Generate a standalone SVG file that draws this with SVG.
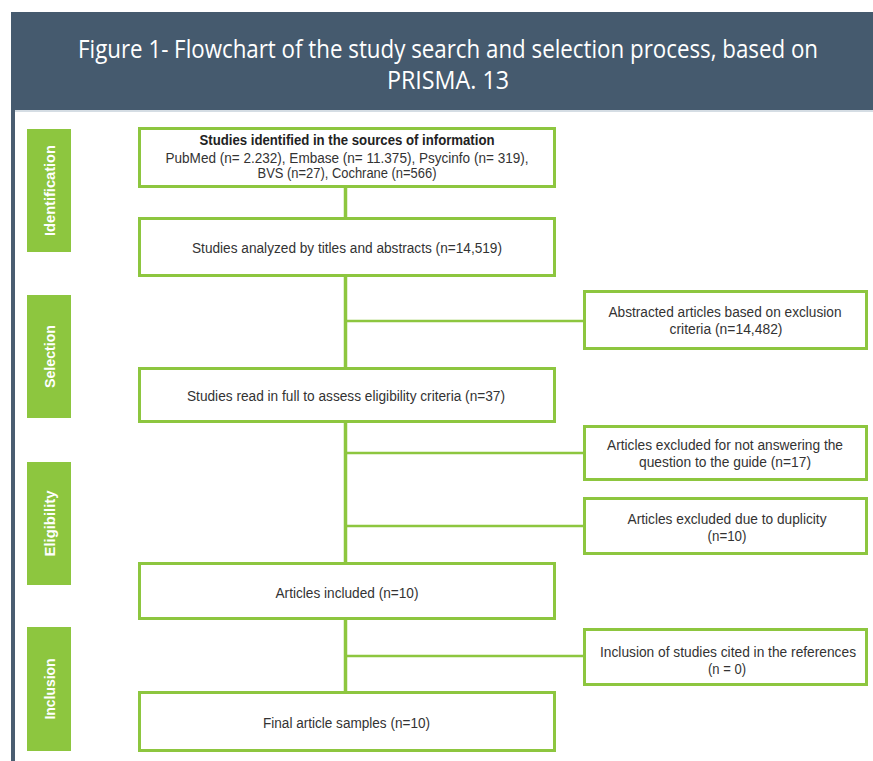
<svg xmlns="http://www.w3.org/2000/svg" width="873" height="761" viewBox="0 0 873 761">
  <style>
    .box { fill: #ffffff; stroke: #8dc63f; stroke-width: 3; }
    .side { fill: #8dc63f; }
    .conn { stroke: #8dc63f; fill: none; }
    .v { stroke-width: 3.5; }
    .h { stroke-width: 2.5; }
    .t { font-family: "Liberation Sans", Arial, sans-serif; font-size: 14px; fill: #333333; text-anchor: middle; }
    .b { font-weight: bold; fill: #222222; }
    .lbl { font-family: "Liberation Sans", Arial, sans-serif; font-size: 15px; font-weight: bold; fill: #ffffff; text-anchor: middle; }
    .title { font-family: "Open Sans", "Liberation Sans", sans-serif; font-size: 25px; fill: #ffffff; text-anchor: middle; }
  </style>
  <rect x="0" y="0" width="873" height="761" fill="#ffffff"/>
  <g id="header">
    <rect x="11" y="12" width="862" height="98" fill="#455a6e"/>
    <rect x="11" y="110" width="862" height="2" fill="#d5dde4"/>
    <text class="title" x="448" y="58" textLength="740" lengthAdjust="spacingAndGlyphs">Figure 1- Flowchart of the study search and selection process, based on</text>
    <text class="title" x="448" y="89" textLength="122" lengthAdjust="spacingAndGlyphs">PRISMA. 13</text>
  </g>
  <rect x="11" y="110" width="4" height="651" fill="#4a5d71"/>

  <g id="label-identification">
    <rect class="side" x="27" y="129" width="44" height="123"/>
    <text class="lbl" transform="translate(54.5,190.5) rotate(-90)" textLength="91" lengthAdjust="spacingAndGlyphs">Identification</text>
  </g>
  <g id="label-selection">
    <rect class="side" x="27" y="295" width="44" height="123"/>
    <text class="lbl" transform="translate(54.5,356.5) rotate(-90)" textLength="63" lengthAdjust="spacingAndGlyphs">Selection</text>
  </g>
  <g id="label-eligibility">
    <rect class="side" x="27" y="462" width="44" height="123"/>
    <text class="lbl" transform="translate(54.5,523.5) rotate(-90)" textLength="66" lengthAdjust="spacingAndGlyphs">Eligibility</text>
  </g>
  <g id="label-inclusion">
    <rect class="side" x="27" y="627" width="44" height="124"/>
    <text class="lbl" transform="translate(54.5,689) rotate(-90)" textLength="61" lengthAdjust="spacingAndGlyphs">Inclusion</text>
  </g>

  <g id="connectors">
    <line class="conn v" x1="345.5" y1="188" x2="345.5" y2="217"/>
    <line class="conn v" x1="345.5" y1="277" x2="345.5" y2="367"/>
    <line class="conn v" x1="345.5" y1="423" x2="345.5" y2="562"/>
    <line class="conn v" x1="345.5" y1="620" x2="345.5" y2="691"/>
    <line class="conn h" x1="345.5" y1="321" x2="583" y2="321"/>
    <line class="conn h" x1="345.5" y1="453" x2="583" y2="453"/>
    <line class="conn h" x1="345.5" y1="526" x2="583" y2="526"/>
    <line class="conn h" x1="345.5" y1="656" x2="583" y2="656"/>
  </g>

  <g id="identified">
    <rect class="box" x="139.5" y="128.5" width="415" height="58"/>
    <text class="t b" x="347" y="145" textLength="295" lengthAdjust="spacingAndGlyphs">Studies identified in the sources of information</text>
    <text class="t" x="347" y="163" textLength="363" lengthAdjust="spacingAndGlyphs">PubMed (n= 2.232), Embase (n= 11.375), Psycinfo (n= 319),</text>
    <text class="t" x="347" y="177.5" textLength="179" lengthAdjust="spacingAndGlyphs">BVS (n=27), Cochrane (n=566)</text>
  </g>
  <g id="analyzed">
    <rect class="box" x="139.5" y="218.5" width="415" height="57"/>
    <text class="t" x="347" y="253" textLength="310" lengthAdjust="spacingAndGlyphs">Studies analyzed by titles and abstracts (n=14,519)</text>
  </g>
  <g id="excluded-abstract">
    <rect class="box" x="584.5" y="291.5" width="282" height="57"/>
    <text class="t" x="725" y="317" textLength="233" lengthAdjust="spacingAndGlyphs">Abstracted articles based on exclusion</text>
    <text class="t" x="726" y="334" textLength="113" lengthAdjust="spacingAndGlyphs">criteria (n=14,482)</text>
  </g>
  <g id="fulltext">
    <rect class="box" x="139.5" y="368.5" width="415" height="53"/>
    <text class="t" x="346" y="401" textLength="318" lengthAdjust="spacingAndGlyphs">Studies read in full to assess eligibility criteria (n=37)</text>
  </g>
  <g id="excluded-question">
    <rect class="box" x="584.5" y="426.5" width="282" height="53"/>
    <text class="t" x="725" y="449.5" textLength="236" lengthAdjust="spacingAndGlyphs">Articles excluded for not answering the</text>
    <text class="t" x="725" y="467" textLength="172" lengthAdjust="spacingAndGlyphs">question to the guide (n=17)</text>
  </g>
  <g id="excluded-duplicity">
    <rect class="box" x="584.5" y="498.5" width="282" height="55"/>
    <text class="t" x="727" y="523.5" textLength="199" lengthAdjust="spacingAndGlyphs">Articles excluded due to duplicity</text>
    <text class="t" x="727" y="541" textLength="39" lengthAdjust="spacingAndGlyphs">(n=10)</text>
  </g>
  <g id="included">
    <rect class="box" x="139.5" y="563.5" width="415" height="55"/>
    <text class="t" x="347" y="598" textLength="143" lengthAdjust="spacingAndGlyphs">Articles included (n=10)</text>
  </g>
  <g id="references">
    <rect class="box" x="584.5" y="629.5" width="282" height="55"/>
    <text class="t" x="728" y="657" textLength="256" lengthAdjust="spacingAndGlyphs">Inclusion of studies cited in the references</text>
    <text class="t" x="727" y="674" textLength="38" lengthAdjust="spacingAndGlyphs">(n = 0)</text>
  </g>
  <g id="final">
    <rect class="box" x="139.5" y="692.5" width="415" height="58"/>
    <text class="t" x="346.5" y="728" textLength="167" lengthAdjust="spacingAndGlyphs">Final article samples (n=10)</text>
  </g>
</svg>
